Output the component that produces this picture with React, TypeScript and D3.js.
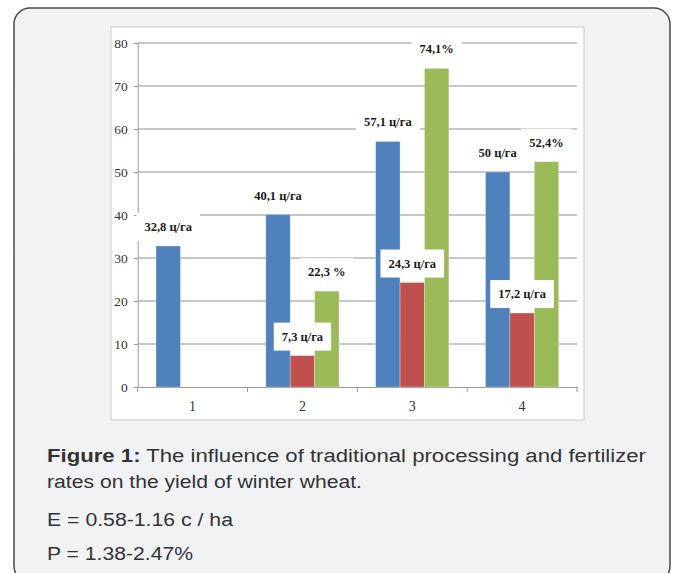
import React, { useEffect, useRef } from 'react';
import * as d3 from 'd3';

// chart values
const categories = ['1', '2', '3', '4'];
const yieldValues = [32.8, 40.1, 57.1, 50];
const lossValues = [null, 7.3, 24.3, 17.2];
const percentValues = [null, 22.3, 74.1, 52.4];
const yieldLabels = ['32,8 ц/га', '40,1 ц/га', '57,1 ц/га', '50 ц/га'];
const lossLabels = ['', '7,3 ц/га', '24,3 ц/га', '17,2 ц/га'];
const percentLabels = ['', '22,3 %', '74,1%', '52,4%'];
const yTicks = [0, 10, 20, 30, 40, 50, 60, 70, 80];
const seriesKeys = ['yield', 'loss', 'percent'];
const seriesColors = ['#4f81bd', '#c0504d', '#9bbb59'];

const captionLines = [
    { bold: 'Figure 1:', rest: ' The influence of traditional processing and fertilizer' },
    { bold: '', rest: 'rates on the yield of winter wheat.' },
    { bold: '', rest: 'E = 0.58-1.16 c / ha' },
    { bold: '', rest: 'P = 1.38-2.47%' },
];

const W = 683;
const H = 573;

export default function App() {
    const ref = useRef<SVGSVGElement>(null);

    useEffect(() => {
        const svg = d3.select(ref.current);
        svg.selectAll('*').remove();

        // outer card
        svg.append('rect')
            .attr('x', 14).attr('y', 8)
            .attr('width', 656).attr('height', 574)
            .attr('rx', 16).attr('ry', 16)
            .attr('fill', '#f1f2f4')
            .attr('stroke', '#4a4a4a')
            .attr('stroke-width', 1.5);

        // chart panel
        svg.append('rect')
            .attr('x', 111).attr('y', 27)
            .attr('width', 473).attr('height', 393)
            .attr('fill', '#ffffff')
            .attr('stroke', '#c9c9c9')
            .attr('stroke-width', 1);

        const x0 = d3.scaleBand().domain(categories).range([137.7, 577])
            .paddingInner(0).paddingOuter(0);
        const x1 = d3.scaleBand().domain(seriesKeys).range([0, x0.bandwidth()])
            .paddingInner(0).paddingOuter(0.75);
        const y = d3.scaleLinear().domain([0, 80]).range([387, 43]);

        const chart = svg.append('g').attr('class', 'chart');

        // gridlines
        chart.append('g').selectAll('line')
            .data(yTicks.filter(t => t > 0))
            .enter().append('line')
            .attr('x1', 137.7).attr('x2', 577)
            .attr('y1', d => y(d)).attr('y2', d => y(d))
            .attr('stroke', '#b4b4b4')
            .attr('stroke-width', 1.4);

        // y axis
        const yAxis = chart.append('g')
            .attr('transform', 'translate(137.7,0)')
            .call(d3.axisLeft(y).tickValues(yTicks).tickSize(4).tickPadding(6));
        yAxis.select('.domain').attr('stroke', '#9a9a9a');
        yAxis.selectAll('.tick line').attr('stroke', '#9a9a9a');
        yAxis.selectAll('.tick text')
            .attr('font-family', '"Liberation Serif", "Times New Roman", serif')
            .attr('font-size', 13.5)
            .attr('fill', '#333');

        // x axis
        const xAxis = chart.append('g')
            .attr('transform', 'translate(0,387)')
            .call(d3.axisBottom(x0).tickSize(0).tickPadding(14));
        xAxis.select('.domain').attr('stroke', '#9a9a9a').attr('stroke-width', 1.2);
        xAxis.selectAll('.tick text')
            .attr('font-family', '"Liberation Serif", "Times New Roman", serif')
            .attr('font-size', 14)
            .attr('fill', '#333');
        xAxis.selectAll('.sep')
            .data(categories.concat(['end']))
            .enter().append('line')
            .attr('class', 'sep')
            .attr('x1', (d, i) => 137.7 + i * x0.step())
            .attr('x2', (d, i) => 137.7 + i * x0.step())
            .attr('y1', 0).attr('y2', 5)
            .attr('stroke', '#9a9a9a');

        const series = [yieldValues, lossValues, percentValues];
        const labels = [yieldLabels, lossLabels, percentLabels];

        // bars
        series.forEach((vals, si) => {
            chart.append('g').selectAll('rect')
                .data(vals.map((v, i) => ({ v, c: categories[i] })).filter(d => d.v != null))
                .enter().append('rect')
                .attr('x', d => x0(d.c) + x1(seriesKeys[si]))
                .attr('y', d => y(d.v))
                .attr('width', x1.bandwidth())
                .attr('height', d => y(0) - y(d.v))
                .attr('fill', seriesColors[si])
                .attr('stroke', 'rgba(255,255,255,0.35)')
                .attr('stroke-width', 0.8);
        });

        // data labels with white boxes
        const labelLayer = chart.append('g');
        series.forEach((vals, si) => {
            vals.forEach((v, i) => {
                if (v == null) return;
                const cx = x0(categories[i]) + x1(seriesKeys[si]) + x1.bandwidth() / 2;
                const cy = y(v) - 19;
                const g = labelLayer.append('g');
                const box = g.append('rect').attr('fill', '#ffffff');
                const t = g.append('text')
                    .attr('x', cx).attr('y', cy)
                    .attr('text-anchor', 'middle')
                    .attr('dominant-baseline', 'central')
                    .attr('font-family', '"Liberation Serif", "Times New Roman", serif')
                    .attr('font-weight', 'bold')
                    .attr('font-size', 12.5)
                    .attr('fill', '#1a1a1a')
                    .text(labels[si][i]);
                const tw = (t.node() as SVGTextElement).getComputedTextLength();
                box.attr('x', cx - tw / 2 - 8).attr('y', cy - 14)
                    .attr('width', tw + 16).attr('height', 28);
            });
        });

        // caption
        const captionWidths = [599, 315, 186, 146];
        const captionY = [462, 488, 526, 560];
        captionLines.forEach((line, i) => {
            const t = svg.append('text')
                .attr('x', 47).attr('y', captionY[i])
                .attr('font-family', '"Liberation Sans", Arial, Helvetica, sans-serif')
                .attr('font-size', 18)
                .attr('fill', '#333')
                .attr('textLength', captionWidths[i])
                .attr('lengthAdjust', 'spacingAndGlyphs');
            if (line.bold) {
                t.append('tspan').attr('font-weight', 'bold').text(line.bold);
            }
            t.append('tspan').text(line.rest);
        });
    }, []);

    return (
        <svg ref={ref} width={W} height={H}
            style={{ position: 'absolute', left: 0, top: 0, background: '#ffffff' }} />
    );
}
